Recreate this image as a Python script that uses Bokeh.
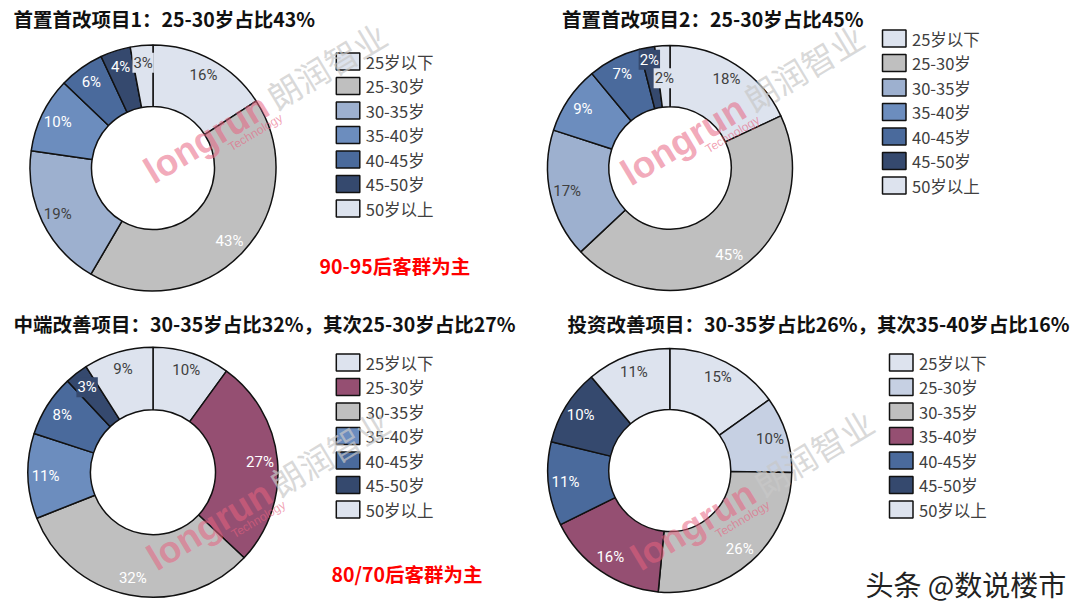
import math
from bokeh.plotting import figure
from bokeh.models import Range1d, ColumnDataSource
from bokeh.core.properties import value
from bokeh.embed import file_html
from bokeh.resources import INLINE

# ---------------- data ----------------
age_groups = ["25岁以下", "25-30岁", "30-35岁", "35-40岁", "40-45岁", "45-50岁", "50岁以上"]

title_1 = "首置首改项目1：25-30岁占比43%"
title_2 = "首置首改项目2：25-30岁占比45%"
title_3 = "中端改善项目：30-35岁占比32%，其次25-30岁占比27%"
title_4 = "投资改善项目：30-35岁占比26%，其次35-40岁占比16%"

share_1 = [16, 43, 19, 10, 6, 4, 3]
share_2 = [18, 45, 17, 9, 7, 2, 2]
share_3 = [10, 27, 32, 11, 8, 3, 9]
share_4 = [15, 10, 26, 16, 11, 10, 11]

note_1 = "90-95后客群为主"
note_3 = "80/70后客群为主"
credit = "头条 @数说楼市"
wm_en = "longrun"
wm_sub = "Technology"
wm_cn = "朗润智业"

# ---------------- styles ----------------
LIGHT = "#DDE3EE"
GREY = "#BFBFBF"
BLUE1 = "#9DB0CF"
BLUE2 = "#6C8DBE"
BLUE3 = "#4A6A9C"
NAVY = "#35496E"
MAROON = "#954F72"
PALE = "#C6D0E3"
DARK_TXT = "#404040"
DARK_BG = {LIGHT, PALE, BLUE1}

colors_1 = [LIGHT, GREY, BLUE1, BLUE2, BLUE3, NAVY, LIGHT]
colors_2 = [LIGHT, GREY, BLUE1, BLUE2, BLUE3, NAVY, LIGHT]
colors_3 = [LIGHT, MAROON, GREY, BLUE2, BLUE3, NAVY, LIGHT]
colors_4 = [LIGHT, PALE, GREY, MAROON, BLUE3, NAVY, LIGHT]

CJK = "Noto Sans CJK SC"
NUM = "Roboto"
WMF = "Liberation Sans"

W, H = 1072, 608
p = figure(width=W, height=H, x_range=Range1d(0, W), y_range=Range1d(616 - H, 616),
           output_backend="svg", toolbar_location=None,
           x_axis_location=None, y_axis_location=None, min_border=0,
           background_fill_color="white", border_fill_color="white",
           outline_line_color=None)
p.grid.visible = False


def Y(yp):
    return 616 - yp


charts = [
    dict(vals=share_1, cols=colors_1, title=title_1, cx=152.5, cy=167.5, r=123,
         tx=13, ty=18, lx=335.8, ly=61, wm=(152.5, 183), lr=[0.86] * 7),
    dict(vals=share_2, cols=colors_2, title=title_2, cx=669.5, cy=167.5, r=122.5,
         tx=561.5, ty=18, lx=882, ly=38, wm=(629.5, 185), lr=[0.86] * 5 + [0.9, 0.735]),
    dict(vals=share_3, cols=colors_3, title=title_3, cx=152.5, cy=471.7, r=125,
         tx=13, ty=323, lx=335.8, ly=362, wm=(155.5, 570), lr=[0.86] * 7),
    dict(vals=share_4, cols=colors_4, title=title_4, cx=669.3, cy=470, r=122,
         tx=567, ty=323, lx=889, ly=362, wm=(639.5, 570), lr=[0.86] * 7),
]

wm_ang = math.radians(31)
# unit vector pointing "up" in the rotated text frame (page coords, y down)
UPX, UPY = -math.sin(wm_ang), -math.cos(wm_ang)

for c in charts:
    vals = c["vals"]
    total = float(sum(vals))
    starts, ends, mids = [], [], []
    acc = 0.0
    for v in vals:
        a0 = math.pi / 2 - 2 * math.pi * acc / total
        a1 = math.pi / 2 - 2 * math.pi * (acc + v) / total
        starts.append(a0)
        ends.append(a1)
        mids.append((a0 + a1) / 2)
        acc += v
    cx, cy, r = c["cx"], Y(c["cy"]), c["r"]
    src = ColumnDataSource(dict(start=starts, end=ends, color=c["cols"]))
    p.annular_wedge(x=cx, y=cy, inner_radius=r * 0.5, outer_radius=r,
                    start_angle="start", end_angle="end", direction="clock",
                    fill_color="color", line_color="#111111", line_width=1.5, source=src)

    # percentage labels
    for i, v in enumerate(vals):
        rl = r * c["lr"][i]
        lx = cx + rl * math.cos(mids[i])
        ly = cy + rl * math.sin(mids[i])
        tc = DARK_TXT if c["cols"][i] in DARK_BG else "white"
        kw = {}
        if v <= 3:
            kw = dict(background_fill_color=c["cols"][i], padding=1)
        p.text(x=[lx], y=[ly], text=[f"{v}%"], text_color=tc,
               text_font=value(NUM), text_font_size="15px",
               text_align="center", text_baseline="middle", **kw)

    # title
    p.text(x=[c["tx"]], y=[Y(c["ty"])], text=[c["title"]], text_color="#111111",
           text_font=value(CJK), text_font_style="bold", text_font_size="19.5px",
           text_align="left", text_baseline="middle")

    # legend
    n = len(age_groups)
    lys = [Y(c["ly"] + 24.5 * i) for i in range(n)]
    lsrc = ColumnDataSource(dict(x=[c["lx"] + 11.75] * n, y=lys, color=c["cols"],
                                 tx=[c["lx"] + 29.5] * n, label=age_groups))
    p.rect(x="x", y="y", width=23.5, height=17, fill_color="color",
           line_color="#111111", line_width=1.5, source=lsrc)
    p.text(x="tx", y="y", text="label", text_color=DARK_TXT, text_font=value(CJK),
           text_font_size="16.5px", text_align="left", text_baseline="middle", source=lsrc)

    # watermark (anchors given at the baseline start, lifted to compensate descent)
    wx, wy = c["wm"]
    sh = 11
    p.text(x=[wx + UPX * sh], y=[Y(wy + UPY * sh)], text=[wm_en], angle=wm_ang,
           text_color="#E8627F", text_alpha=0.55, text_font=value(WMF),
           text_font_style="bold", text_font_size="37px",
           text_align="left", text_baseline="alphabetic")
    sh = 4
    p.text(x=[wx + 78.5 + UPX * sh], y=[Y(wy - 32 + UPY * sh)], text=[wm_sub], angle=wm_ang,
           text_color="#E8627F", text_alpha=0.6, text_font=value(WMF), text_font_size="12px",
           text_align="left", text_baseline="alphabetic")
    sh = 9
    p.text(x=[wx + 121.5 + UPX * sh], y=[Y(wy - 76.5 + UPY * sh)], text=[wm_cn], angle=wm_ang,
           text_color="#C8C8C8", text_alpha=0.7, text_font=value(CJK), text_font_size="33px",
           text_align="left", text_baseline="alphabetic")

# notes
p.text(x=[319], y=[Y(265)], text=[note_1], text_color="#FF0000", text_font=value(CJK),
       text_font_style="bold", text_font_size="19.5px", text_align="left", text_baseline="middle")
p.text(x=[331], y=[Y(573)], text=[note_3], text_color="#FF0000", text_font=value(CJK),
       text_font_style="bold", text_font_size="19.5px", text_align="left", text_baseline="middle")
p.text(x=[865], y=[Y(583)], text=[credit], text_color="#222222", text_font=value(CJK),
       text_font_size="28px", text_align="left", text_baseline="middle")

open("out.html", "w").write(file_html(p, INLINE))
